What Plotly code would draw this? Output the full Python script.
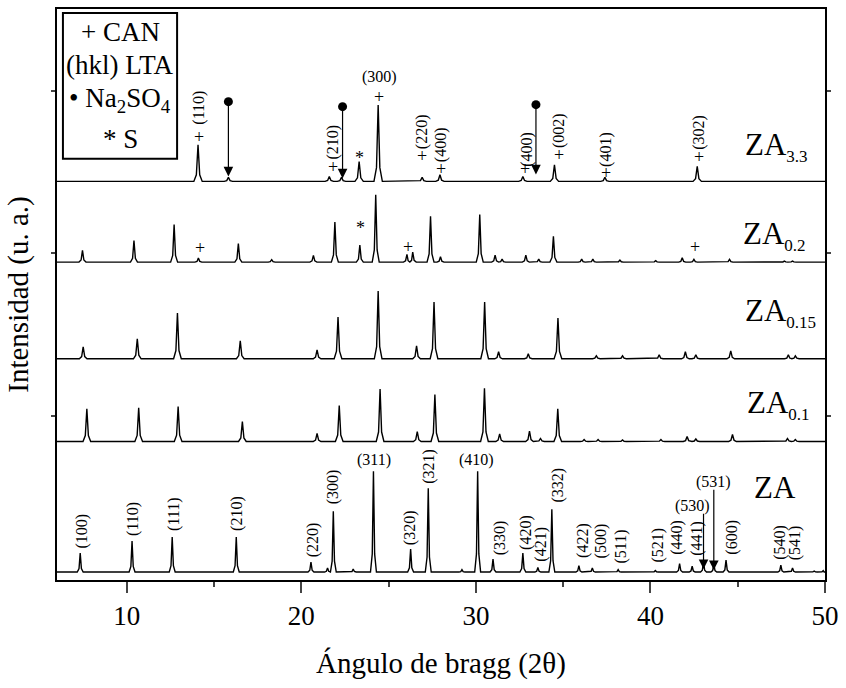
import plotly.graph_objects as go

# ---------------- data ----------------
x_min, x_max = 6, 50
y_max = 573  # vertical scale: arbitrary units (u. a.)

# ZA
za_base = 8
za_pos = [7.33, 10.3, 12.6, 16.27, 20.55, 21.5, 21.83, 22.97, 24.13, 26.26, 27.27, 29.2,
          30.1, 30.98, 32.69, 33.55, 34.35, 35.9, 36.67, 38.15, 40.28, 41.67, 42.39,
          43.04, 43.63, 44.33, 47.47, 48.14, 49.38, 49.9]
za_top = [27, 39, 43, 43, 18, 12, 69, 11, 109, 31, 92, 10.5,
          109, 21, 27, 12.5, 71, 14.5, 12, 10.5, 9.5, 16.5, 14,
          18, 16, 20, 15, 12, 9, 9.5]

# ZA 0.1
za01_base = 139
za01_pos = [7.71, 10.68, 12.94, 16.62, 20.9, 22.17, 24.51, 26.64, 27.65, 30.49, 31.36,
            33.07, 33.7, 34.69, 36.2, 37.0, 38.4, 40.6, 42.1, 42.6, 44.7, 47.85, 48.3]
za01_top = [171.7, 172.7, 174, 159, 147, 175, 191.7, 149, 186, 192.3, 146.7,
            149.3, 142, 171.7, 141, 141, 140.5, 141, 144, 141.5, 146, 142, 141]

# ZA 0.15
za015_base = 222
za015_pos = [7.5, 10.6, 12.9, 16.5, 20.9, 22.1, 24.4, 26.6, 27.6, 30.5, 31.3, 33.0,
             34.7, 36.9, 38.4, 40.5, 42.0, 42.6, 44.6, 47.9, 48.3]
za015_top = [234, 242, 268, 240, 231, 264, 290, 235, 279, 279, 229, 227,
             263, 225, 225, 226, 229, 226, 230, 226, 225]

# ZA 0.2
za02_base = 319
za02_pos = [7.46, 10.41, 12.71, 14.1, 16.39, 18.3, 20.69, 21.92, 23.35, 24.26, 26.05,
            26.38, 27.4, 27.97, 30.22, 31.1, 31.5, 32.86, 33.6, 34.44, 36.06, 36.7,
            38.25, 40.3, 41.82, 42.49, 44.53, 47.67, 48.14]
za02_top = [330.7, 340.7, 356.7, 323, 337.7, 321.5, 325.7, 359.3, 336, 386.7, 326.7,
            329, 365, 324.3, 366.7, 326, 322, 326, 322, 345, 322, 322,
            321, 320.5, 323.3, 321.7, 321.7, 320, 320]

# ZA 3.3
za33_base = 400
za33_pos = [14.08, 15.82, 21.6, 22.3, 23.31, 24.4, 26.92, 27.94, 32.69, 34.5, 37.39, 42.68]
za33_top = [436.7, 404, 405, 404, 420, 476.7, 404, 406.7, 405, 416.7, 404, 415]

# hkl labels of the LTA zeolite (ZA pattern), rotated
za_hkl = ["(100)", "(110)", "(111)", "(210)", "(220)", "(300)", "(320)", "(321)", "(330)",
          "(420)", "(421)", "(332)", "(422)", "(500)", "(511)", "(521)", "(440)", "(441)",
          "(600)", "(540)", "(541)"]
za_hkl_x = [7.43, 10.34, 12.66, 16.27, 20.65, 21.79, 26.2, 27.31, 31.36,
            32.83, 33.68, 34.69, 36.1, 37.16, 38.34, 40.43, 41.48, 42.62,
            44.62, 47.38, 48.27]
za_hkl_y = [30, 42, 47, 47, 21, 74, 33, 95, 23, 28, 16, 76, 20, 20, 15, 16, 23, 22, 23, 18, 18]
# horizontal hkl labels
za_hkl_h = ["(311)", "(410)"]
za_hkl_h_x = [24.17, 30.03]
za_hkl_h_y = [109, 109]
# arrow-labelled hkl
za_arrow_hkl = ["(530)", "(531)"]
za_arrow_x = [43.04, 43.63]
za_arrow_lab_x = [42.43, 43.61]
za_arrow_lab_y = [74, 98]
za_arrow_tail = [68, 92]
za_arrow_head = [11, 10]

# ZA 3.3 CAN labels
za33_hkl = ["(110)", "(210)", "(220)", "(400)", "(400)", "(002)", "(401)", "(302)"]
za33_hkl_x = [14.14, 21.79, 26.92, 28.01, 32.92, 34.76, 37.45, 42.77]
za33_hkl_y = [455, 420, 430, 417, 413, 432, 413, 430]
za33_plus_x = [14.14, 21.83, 24.45, 26.92, 28.01, 32.83, 34.76, 37.45, 42.77]
za33_plus_y = [445, 414, 485, 425, 412, 412, 426, 408, 424]
za33_h_lab = ["(300)"]
za33_h_x = [24.45]
za33_h_y = [505]
za33_star_x = [23.35]
za33_star_y = [423]
na2so4_x = [15.82, 22.36, 33.44]
na2so4_dot = [480, 475, 477]
na2so4_head = [405, 403, 407]

# ZA 0.2 markers
za02_plus_x = [14.18, 26.09, 42.53]
za02_plus_y = [333, 334, 334]
za02_star_x = [23.37]
za02_star_y = [353]

# sample names
sample_names = ["3.3", "0.2", "0.15", "0.1", ""]
sample_x = [45.3, 45.2, 45.3, 45.4, 45.8]
sample_y = [435, 346, 268, 176, 93]

legend_lines = ["+ CAN", "(hkl) LTA", "\u2022 Na<sub>2</sub>SO<sub>4</sub>", "* S"]
legend_y = [550, 517, 482, 443]

# ---------------- figure ----------------
FONT = "Liberation Serif"


def pattern(base, pos, top, w=0.2):
    order = sorted(range(len(pos)), key=lambda i: pos[i])
    xs, ys = [x_min], [base]
    for k, i in enumerate(order):
        p = pos[i]
        h = top[i] - base
        lg = p - (pos[order[k - 1]] if k > 0 else x_min)
        rg = (pos[order[k + 1]] if k + 1 < len(order) else x_max) - p
        wl, wr = min(w, lg / 2), min(w, rg / 2)
        xs += [p - wl, p - 0.4 * wl, p, p + 0.4 * wr, p + wr]
        ys += [base, base + 0.18 * h, top[i], base + 0.18 * h, base]
    xs.append(x_max)
    ys.append(base)
    return xs, ys


fig = go.Figure()
for base, pos, top, w in [(za_base, za_pos, za_top, 0.17), (za01_base, za01_pos, za01_top, 0.22),
                          (za015_base, za015_pos, za015_top, 0.22),
                          (za02_base, za02_pos, za02_top, 0.2),
                          (za33_base, za33_pos, za33_top, 0.24)]:
    xs, ys = pattern(base, pos, top, w)
    fig.add_trace(go.Scatter(x=xs, y=ys, mode="lines", line=dict(color="black", width=1.4),
                             showlegend=False, hoverinfo="skip"))

# Na2SO4 dots
fig.add_trace(go.Scatter(x=na2so4_x, y=na2so4_dot, mode="markers",
                         marker=dict(color="black", size=9), showlegend=False, hoverinfo="skip"))

ann = []


def txt(x, y, t, size=16, angle=0, xa="center", ya="middle"):
    ann.append(dict(x=x, y=y, xref="x", yref="y", text=t, showarrow=False, textangle=angle,
                    xanchor=xa, yanchor=ya, font=dict(family=FONT, size=size, color="black")))


def arrow(x, tail, head):
    ann.append(dict(x=x, y=head, ax=x, ay=tail, xref="x", yref="y", axref="x", ayref="y",
                    text="", showarrow=True, arrowhead=2, arrowsize=1.6, arrowwidth=1.2,
                    arrowcolor="black"))


for t, x, y in zip(za_hkl, za_hkl_x, za_hkl_y):
    txt(x, y, t, angle=-90, ya="bottom")
for t, x, y in zip(za_hkl_h, za_hkl_h_x, za_hkl_h_y):
    txt(x, y, t, ya="bottom")
for t, x, y in zip(za_arrow_hkl, za_arrow_lab_x, za_arrow_lab_y):
    txt(x, y, t)
for x, t0, h0 in zip(za_arrow_x, za_arrow_tail, za_arrow_head):
    arrow(x, t0, h0)

for t, x, y in zip(za33_hkl, za33_hkl_x, za33_hkl_y):
    txt(x, y, t, angle=-90, ya="bottom")
for t, x, y in zip(za33_h_lab, za33_h_x, za33_h_y):
    txt(x, y, t)
for x, y in zip(za33_plus_x + za02_plus_x, za33_plus_y + za02_plus_y):
    txt(x, y, "+", size=18)
for x, y in zip(za33_star_x + za02_star_x, za33_star_y + za02_star_y):
    txt(x, y, "*", size=18)
for x, d0, h0 in zip(na2so4_x, na2so4_dot, na2so4_head):
    arrow(x, d0, h0)

for s, x, y in zip(sample_names, sample_x, sample_y):
    t = "ZA" + (f"<sub><span style='font-size:17px'>{s}</span></sub>" if s else "")
    txt(x, y, t, size=31, xa="left")

for t, y in zip(legend_lines, legend_y):
    txt(9.61, y, t, size=27)

fig.update_layout(
    annotations=ann,
    shapes=[dict(type="rect", xref="x", yref="y", x0=6.34, x1=12.88, y0=422.7, y1=569,
                 line=dict(color="black", width=2))],
    width=846, height=688,
    margin=dict(l=57, r=18, t=7, b=108),
    plot_bgcolor="white", paper_bgcolor="white",
    font=dict(family=FONT, color="black"),
    xaxis=dict(range=[x_min, x_max], dtick=10, tick0=0, ticks="outside", ticklen=11,
               tickwidth=2, showline=True, linewidth=2, linecolor="black", mirror=True,
               showgrid=False, zeroline=False, tickfont=dict(size=27, family=FONT),
               minor=dict(dtick=5, ticks="outside", ticklen=5, tickwidth=2, showgrid=False),
               title=dict(text="Ángulo de bragg (2θ)", font=dict(size=29, family=FONT),
                          standoff=22)),
    yaxis=dict(range=[0, y_max], tickvals=[165, 328, 491], ticks="outside", ticklen=4,
               tickwidth=1.5, showticklabels=False, showline=True, linewidth=2,
               linecolor="black", mirror="ticks", showgrid=False, zeroline=False,
               title=dict(text="Intensidad (u. a.)", font=dict(size=29, family=FONT),
                          standoff=14)),
)

fig.write_html("out.html")
